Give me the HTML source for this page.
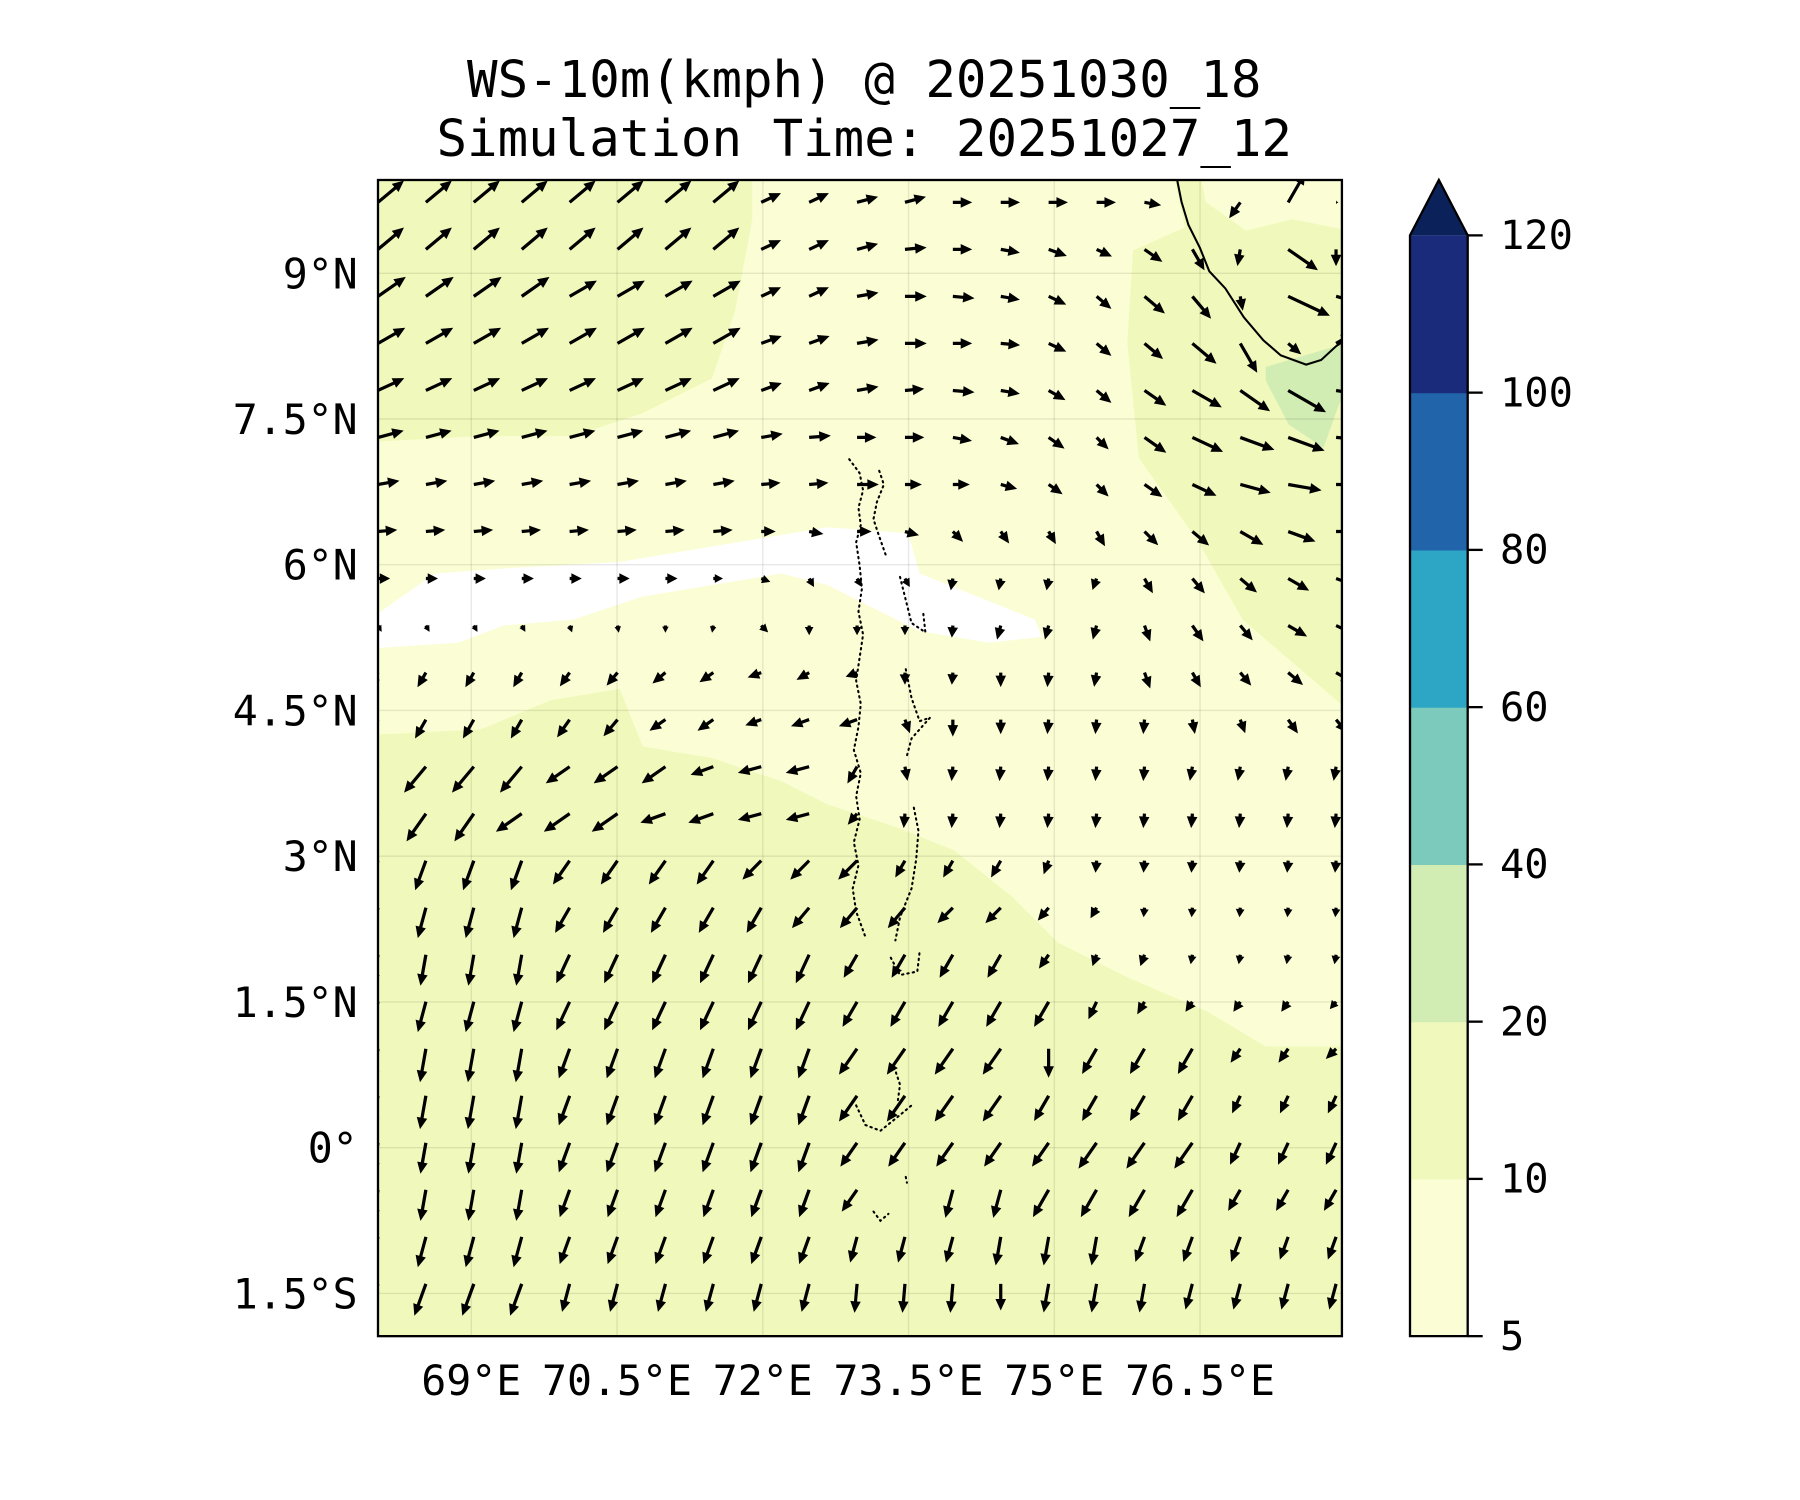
<!DOCTYPE html>
<html><head><meta charset="utf-8"><title>WS-10m chart</title>
<style>
html,body{margin:0;padding:0;background:#fff;}
svg{display:block;}
text{font-family:"DejaVu Sans Mono","Liberation Mono",monospace;fill:#000;}
</style></head>
<body>
<svg id="chart" width="1800" height="1500" viewBox="0 0 1560 1300" xmlns="http://www.w3.org/2000/svg">
  <g>
    <text x="749" y="84" font-size="44" text-anchor="middle">WS-10m(kmph) @ 20251030_18</text>
    <text x="749" y="135" font-size="44" text-anchor="middle">Simulation Time: 20251027_12</text>
  </g>
  <defs><clipPath id="mapclip"><rect x="327.6" y="156" width="835.4" height="1002"/></clipPath></defs>
  <g id="map" clip-path="url(#mapclip)">
    <rect x="327.6" y="156" width="835.4" height="1002" fill="#f0f9bb"/>
    <path fill="#fbfed4" d="M652,150 L652,190 L637,270 L617,328 L557,358 L497,378 L417,378 L320,383 L320,637 L417,632 L477,607 L537,597 L557,647 L617,657 L677,677 L717,697 L777,717 L827,737 L877,777 L917,817 L977,847 L1047,877 L1097,907 L1170,907 L1170,617 L1077,537 L1037,467 L987,397 L977,297 L982,217 L1027,197 L1017,150 Z"/>
    <path fill="#fbfed4" d="M1040,150 L1170,150 L1170,200 L1120,190 L1080,200 L1045,175 Z"/>
    <path fill="#ffffff" d="M320,537 L377,497 L447,492 L537,487 L597,477 L657,467 L717,457 L787,462 L797,497 L847,517 L897,537 L903,552 L857,557 L797,547 L757,527 L717,507 L677,497 L617,507 L557,517 L497,537 L437,542 L397,557 L320,562 Z"/>
    <path fill="#d1edb4" d="M1097,318 L1165,298 L1165,338 L1147,388 L1117,368 L1097,330 Z"/>
    <g id="grid"></g>
    <path fill="none" stroke="#000" stroke-width="1.8" d="M1019,150 L1024,175 L1030,195 L1040,215 L1048,235 L1062,250 L1078,275 L1095,295 L1110,308 L1132,316 L1145,312 L1158,300 L1170,292"/>
    <g fill="none" stroke="#000" stroke-width="1.8" stroke-dasharray="1.2 3.5" stroke-linecap="round">
      <path d="M736,398 L745,410 L748,425 L744,440 L746,455 L742,470 L745,490 L747,510 L744,530 L748,550 L745,570 L742,590 L746,610 L744,630 L740,650 L746,670 L742,690 L745,710 L740,730 L744,750 L739,770 L742,790 L750,812"/>
      <path d="M762,408 L766,420 L760,435 L757,450 L762,465 L768,482"/>
      <path d="M780,500 L785,520 L790,540 L802,548 L800,530"/>
      <path d="M785,580 L790,605 L797,625 L806,622 L790,640 L786,655"/>
      <path d="M792,700 L796,720 L794,745 L790,770 L780,795 L776,815"/>
      <path d="M772,830 L780,845 L795,842 L797,825"/>
      <path d="M775,925 L780,940 L778,955"/>
      <path d="M742,958 L750,975 L763,980 L778,968 L790,958"/>
      <path d="M785,1020 L786,1025"/>
      <path d="M757,1050 L763,1058 L770,1052"/>
    </g>
    <g id="arrows"></g>
  </g>
  <rect x="327.6" y="156" width="835.4" height="1002" fill="none" stroke="#000" stroke-width="2"/>
  <g id="xticks"></g>
  <g id="yticks"></g>
  <g id="colorbar"></g>
</svg>
<script>
// ---- data ----
const lonTicks = [69, 70.5, 72, 73.5, 75, 76.5];
const lonTickLabels = ["69°E", "70.5°E", "72°E", "73.5°E", "75°E", "76.5°E"];
const latTicks = [-1.5, 0, 1.5, 3, 4.5, 6, 7.5, 9];
const latTickLabels = ["1.5°S", "0°", "1.5°N", "3°N", "4.5°N", "6°N", "7.5°N", "9°N"];
const cbarLevels = [5, 10, 20, 40, 60, 80, 100, 120];
const cbarColors = ["#fbfed4", "#f0f9bb", "#d1edb4", "#7ccabb", "#2da5c4", "#2264aa", "#1b2b7c"];
const cbarExtendColor = "#0b2159";
const gridLon0 = 68.04, gridLonStep = 0.493;
const gridLat0 = 9.73, gridLatStep = 0.484;
// wind direction (deg, math convention: 0 = toward east, 90 = toward north), one row per latitude (north to south), 21 columns
const windAngle = [
 [40,40,40,40,40,40,40,40,25,25,15,15,0,0,0,0,-10,0,235,60,0],
 [40,40,40,40,40,40,40,40,25,25,15,5,0,-10,-20,-25,-35,-60,260,-35,270],
 [35,35,35,35,30,30,30,30,25,25,10,0,-5,-10,-25,-40,-40,-50,-80,-25,-15],
 [30,30,30,30,30,30,30,30,20,20,10,0,0,-5,-25,-40,-40,-40,-60,-40,30],
 [25,25,25,25,25,25,25,25,20,20,10,5,-5,-10,-30,-40,-35,-30,-35,-30,-10],
 [15,15,15,15,15,15,15,15,10,5,0,0,-10,-20,-35,-45,-35,-25,-20,-20,-5],
 [10,10,10,10,10,10,10,10,5,5,0,0,0,-15,-35,-45,-35,-25,-15,-10,0],
 [5,5,5,5,5,5,5,5,0,-10,0,-15,-45,-55,-60,-60,-45,-40,-30,-20,0],
 [0,0,0,0,0,0,0,0,-20,-60,-60,-60,-100,-100,-100,-110,-60,-50,-40,-30,-20],
 [-60,-60,-60,-60,-70,-80,-90,-100,-45,-90,-90,-90,-95,-105,-105,-105,-70,-55,-50,-30,-25],
 [240,240,240,240,235,230,220,215,200,210,200,-90,-95,-90,-95,-100,-70,-60,-50,-40,-30],
 [240,240,240,240,235,230,215,215,200,200,200,-70,-90,-90,-95,-95,-95,-80,-70,-55,-50],
 [230,230,230,230,215,215,215,200,195,195,240,-80,-95,-95,-95,-95,-95,-100,-100,-100,-100],
 [235,235,235,215,215,215,200,200,195,195,230,-95,-95,-95,-95,-95,-95,-95,-95,-95,-95],
 [250,250,250,250,235,235,235,235,225,225,225,240,240,240,-110,-95,-95,-95,-95,-95,-95],
 [255,255,255,255,240,240,240,240,240,230,230,230,225,225,230,-120,-95,-95,-95,-95,-95],
 [260,260,260,260,245,245,245,245,245,245,240,240,240,240,235,250,250,-100,-100,-100,-100],
 [255,255,255,255,245,245,245,245,245,245,240,240,240,240,240,245,240,235,235,235,230],
 [260,260,260,260,250,250,250,250,250,250,235,235,235,235,270,240,240,240,235,235,225],
 [260,260,260,260,250,250,250,250,250,250,235,235,235,235,240,240,240,240,245,245,245],
 [260,260,260,260,250,250,250,250,250,250,235,235,235,235,235,235,235,235,245,245,245],
 [260,260,260,260,250,250,250,250,250,250,235,270,255,255,240,240,240,240,240,240,240],
 [255,255,255,255,250,250,250,250,250,250,255,255,255,260,260,260,250,250,250,250,250],
 [250,250,250,250,255,255,255,255,255,255,265,265,265,270,260,260,260,255,255,255,255]
];
// wind speed (kmph, approximate)
const windSpeed = [
 [14,14,14,14,14,14,14,14,9,9,9,9,8,8,8,8,7,0,8,14,1],
 [14,14,14,14,14,14,14,14,9,9,9,9,8,8,8,7,9,10,7,15,7],
 [14,14,14,14,13,13,13,13,9,9,9,9,9,8,8,8,11,12,6,19,9],
 [13,13,13,13,13,13,13,13,9,9,9,9,8,8,8,8,10,13,14,7,8],
 [12,12,12,12,12,12,12,12,9,9,9,8,9,8,8,8,11,14,15,18,8],
 [11,11,11,11,11,11,11,11,9,9,8,8,8,8,8,7,11,14,15,16,7],
 [9,9,9,9,9,9,9,9,8,8,9,7,7,7,7,7,9,11,13,14,8],
 [8,8,8,8,8,8,8,8,6,6,6,6,6,6,6,7,8,9,11,12,8],
 [5,5,5,5,5,5,5,4,4,4,4,4,5,5,5,5,7,8,9,10,8],
 [3,3,3,3,3,3,3,3,4,4,4,4,5,6,6,6,7,8,8,9,8],
 [7,7,7,7,7,7,7,7,6,6,5,5,5,6,6,6,7,7,7,8,8],
 [9,9,9,9,9,9,8,8,7,8,8,6,7,6,6,6,6,6,6,7,7],
 [14,14,14,14,12,12,12,10,10,10,8,6,6,6,6,6,6,6,6,6,6],
 [14,14,14,13,13,13,11,11,10,10,6,6,6,6,6,6,6,6,6,6,6],
 [13,13,13,13,12,12,12,12,11,11,11,8,8,8,6,5,5,5,5,5,5],
 [13,13,13,13,12,12,12,12,12,11,11,11,9,9,7,5,4,4,4,4,4],
 [13,13,13,13,13,13,13,13,13,13,11,11,11,11,7,5,5,4,4,4,4],
 [13,13,13,13,13,13,13,13,13,13,12,12,12,12,12,8,6,5,5,5,4],
 [14,14,14,14,13,13,13,13,13,13,13,13,13,13,12,12,12,12,7,7,6],
 [14,14,14,14,13,13,13,13,13,13,13,13,13,13,12,12,12,12,8,8,8],
 [13,13,13,13,13,13,13,13,13,13,12,12,12,12,12,13,13,13,10,10,10],
 [13,13,13,13,12,12,12,12,12,12,11,0,12,12,13,13,13,13,10,10,10],
 [13,13,13,13,12,12,12,12,12,12,11,11,11,12,12,12,11,11,11,10,10],
 [14,14,14,14,12,12,12,12,12,12,12,12,12,11,12,12,12,11,11,11,11]
];
// ---- axes ----
const mapX0 = 327.6, mapX1 = 1163, mapY0 = 156, mapY1 = 1158;
const lonMin = 68.04, lonMax = 77.96, latMin = -1.94, latMax = 9.96;
function xOf(lon){ return mapX0 + (lon - lonMin) / (lonMax - lonMin) * (mapX1 - mapX0); }
function yOf(lat){ return mapY1 - (lat - latMin) / (latMax - latMin) * (mapY1 - mapY0); }
const NS = "http://www.w3.org/2000/svg";
function mk(tag, attrs, parent){ const e = document.createElementNS(NS, tag); for (const k in attrs) e.setAttribute(k, attrs[k]); parent.appendChild(e); return e; }
const grid = document.getElementById('grid');
const xt = document.getElementById('xticks');
const yt = document.getElementById('yticks');
lonTicks.forEach((lon, i) => {
  const x = xOf(lon);
  const gl = mk('line', {x1:x, x2:x, y1:mapY0, y2:mapY1, stroke:'rgba(0,0,0,0.09)', 'stroke-width':1.2}, grid);
  
  
  const t = mk('text', {x:x, y:1209, 'font-size':36, 'text-anchor':'middle'}, xt);
  t.textContent = lonTickLabels[i];
  
  
});
latTicks.forEach((lat, i) => {
  const y = yOf(lat);
  const gl = mk('line', {x1:mapX0, x2:mapX1, y1:y, y2:y, stroke:'rgba(0,0,0,0.09)', 'stroke-width':1.2}, grid);
  
  
  const t = mk('text', {x:310, y:y + 13, 'font-size':36, 'text-anchor':'end'}, yt);
  t.textContent = latTickLabels[i];
  
  
});
// ---- arrows ----
const arrows = document.getElementById('arrows');
const pxPerKmph = 2.1;
windAngle.forEach((row, r) => {
  row.forEach((ang, c) => {
    const spd = windSpeed[r][c];
    if (!spd) return;
    const lon = gridLon0 + c * gridLonStep, lat = gridLat0 - r * gridLatStep;
    const x = xOf(lon), y = yOf(lat);
    const L = spd * pxPerKmph;
    const a = ang * Math.PI / 180;
    const ux = Math.cos(a), uy = -Math.sin(a);
    const px = -uy, py = ux;
    const hl = Math.min(10, L * 0.85), hw = Math.min(4.6, L * 0.45), sw = 1.4;
    const bx = x + ux * (L - hl), by = y + uy * (L - hl);
    const tx = x + ux * L, ty = y + uy * L;
    const pts = [
      [x + px*sw, y + py*sw], [bx + px*sw, by + py*sw], [bx + px*hw, by + py*hw], [tx, ty],
      [bx - px*hw, by - py*hw], [bx - px*sw, by - py*sw], [x - px*sw, y - py*sw]
    ].map(p => p[0].toFixed(1) + ',' + p[1].toFixed(1)).join(' ');
    const el = mk('polygon', {points: pts, fill:'#000'}, arrows);
    
    
  });
});
// ---- colorbar ----
const cb = document.getElementById('colorbar');
const cbX0 = 1222, cbX1 = 1272, cbBottom = 1158, cbTop = 204, cbTip = 156;
function cbY(i){ return cbBottom - i * (cbBottom - cbTop) / (cbarLevels.length - 1); }
cbarColors.forEach((col, i) => {
  const y1 = cbY(i + 1), y0 = cbY(i);
  const r = mk('rect', {x:cbX0, y:y1, width:cbX1 - cbX0, height:y0 - y1 + 0.5, fill:col}, cb);
  
  
});
const tip = mk('polygon', {points: cbX0+','+cbTop+' '+(cbX0+cbX1)/2+','+cbTip+' '+cbX1+','+cbTop, fill:cbarExtendColor}, cb);


const outline = mk('path', {d:'M'+cbX0+','+cbBottom+' L'+cbX0+','+cbTop+' L'+(cbX0+cbX1)/2+','+cbTip+' L'+cbX1+','+cbTop+' L'+cbX1+','+cbBottom+' Z', fill:'none', stroke:'#000', 'stroke-width':2}, cb);


cbarLevels.forEach((lv, i) => {
  const y = cbY(i);
  const tk = mk('line', {x1:cbX1, x2:cbX1 + 13, y1:y, y2:y, stroke:'#000', 'stroke-width':2}, cb);
  
  
  const t = mk('text', {x:1300, y:y + 12, 'font-size':35}, cb);
  t.textContent = String(lv);
  
  
});
</script>
</body></html>
